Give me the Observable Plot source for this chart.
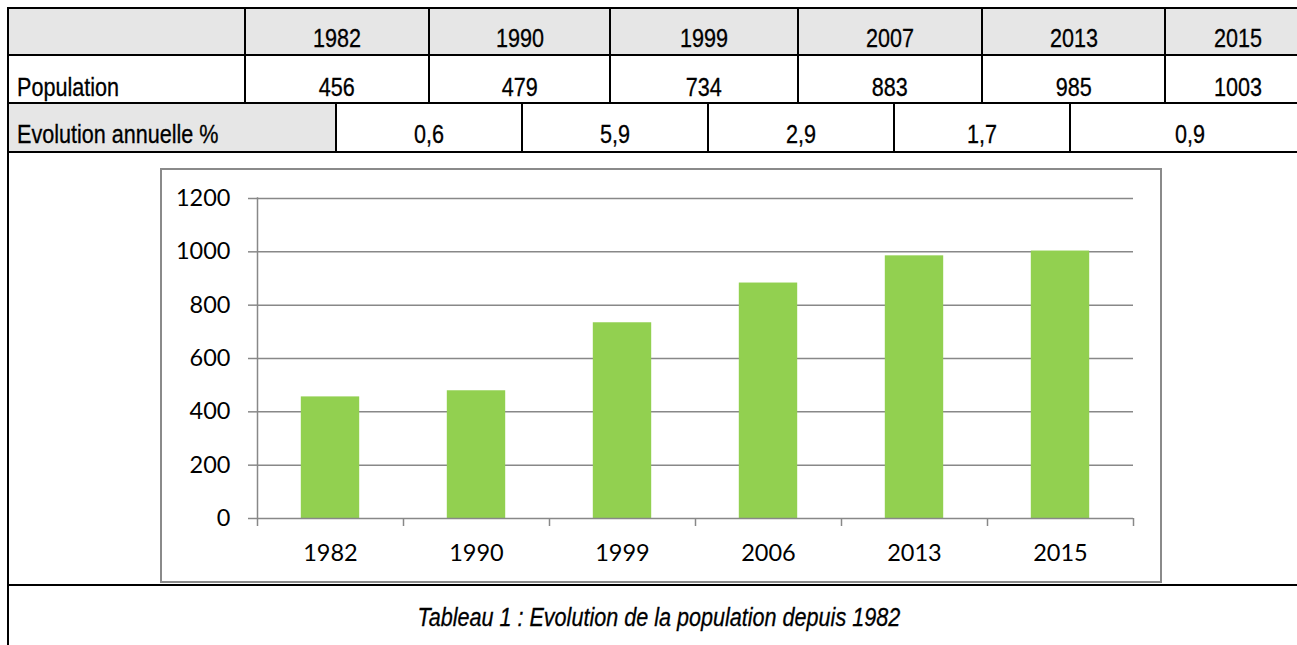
<!DOCTYPE html>
<html><head><meta charset="utf-8">
<script src="https://cdn.jsdelivr.net/npm/d3@7"></script>
<script src="https://cdn.jsdelivr.net/npm/@observablehq/plot@0.6"></script>
<style>
html,body{margin:0;padding:0;background:#fff;}
#page{position:relative;width:1297px;height:645px;overflow:hidden;font-family:"Liberation Sans Narrow","Arial Narrow","Liberation Sans",Arial,sans-serif;font-size:26px;color:#000;}
.t{position:absolute;white-space:nowrap;line-height:26px;height:26px;}
.t span{display:inline-block;transform:scaleX(0.83);-webkit-text-stroke:0.3px #000;}
.c span{transform-origin:50% 50%;}
.l span{transform-origin:0 50%;}
.bg{position:absolute;background:#e6e6e6;}
.hl{position:absolute;background:#000;height:2px;}
.vl{position:absolute;background:#000;width:2px;}
#chartbox{position:absolute;left:160px;top:168px;width:1002px;height:415px;}
#chartborder{position:absolute;left:160px;top:168px;width:1002px;height:415px;box-sizing:border-box;border:2px solid #8a8a8a;pointer-events:none;}
#chartbox svg{position:absolute;left:0;top:0;}
</style></head><body><div id="page"></div>
<script>
// ---- data ----
const tableYears = ["1982", "1990", "1999", "2007", "2013", "2015"];
const population = [456, 479, 734, 883, 985, 1003];
const evolution = ["0,6", "5,9", "2,9", "1,7", "0,9"];
const rowLabels = ["Population", "Evolution annuelle %"];
const chartYears = ["1982", "1990", "1999", "2006", "2013", "2015"];
const chartValues = [456, 479, 734, 883, 985, 1003];
const yTicks = [0, 200, 400, 600, 800, 1000, 1200];
const caption = "Tableau 1 : Evolution de la population depuis 1982";

// ---- layout ----
const rowLines = [8, 55, 103, 152, 585];
const colsTop = [8, 245, 429, 610, 798, 982, 1165, 1310];
const colsEvo = [8, 336, 522, 708, 894, 1070, 1310];
const baselines = [47, 96, 143];
const captionBaseline = 626;
const FS = 26;

const page = document.getElementById("page");
function el(cls, css, text) {
  const d = document.createElement("div");
  d.className = cls;
  Object.assign(d.style, css);
  if (text !== undefined) {
    const s = document.createElement("span");
    s.textContent = text;
    d.appendChild(s);
  }
  page.appendChild(d);
  return d;
}
function textTop(b) { return (b - 0.8465 * FS) + "px"; }

// backgrounds
el("bg", {left: colsTop[0] + "px", top: rowLines[0] + "px", width: (1310 - colsTop[0]) + "px", height: (rowLines[1] - rowLines[0]) + "px"});
el("bg", {left: colsEvo[0] + "px", top: rowLines[2] + "px", width: (colsEvo[1] - colsEvo[0]) + "px", height: (rowLines[3] - rowLines[2]) + "px"});

// horizontal lines
rowLines.forEach(y => el("hl", {left: "7px", top: (y - 1) + "px", width: "1310px"}));
// left border
el("vl", {left: "7px", top: "7px", height: "700px"});
// vertical lines rows 1-2
colsTop.slice(1, -1).forEach(x => el("vl", {left: (x - 1) + "px", top: (rowLines[0] - 1) + "px", height: (rowLines[2] - rowLines[0] + 2) + "px"}));
// vertical lines row 3
colsEvo.slice(1, -1).forEach(x => el("vl", {left: (x - 1) + "px", top: (rowLines[2] - 1) + "px", height: (rowLines[3] - rowLines[2] + 2) + "px"}));

// header years
tableYears.forEach((y, i) => el("t c", {left: colsTop[i + 1] + "px", width: (colsTop[i + 2] - colsTop[i + 1]) + "px", textAlign: "center", top: textTop(baselines[0])}, y));
// population
el("t l", {left: "17px", top: textTop(baselines[1])}, rowLabels[0]);
population.forEach((v, i) => el("t c", {left: colsTop[i + 1] + "px", width: (colsTop[i + 2] - colsTop[i + 1]) + "px", textAlign: "center", top: textTop(baselines[1])}, String(v)));
// evolution
el("t l", {left: "17px", top: textTop(baselines[2])}, rowLabels[1]);
evolution.forEach((v, i) => el("t c", {left: colsEvo[i + 1] + "px", width: (colsEvo[i + 2] - colsEvo[i + 1]) + "px", textAlign: "center", top: textTop(baselines[2])}, v));
// caption
el("t c", {left: "8px", width: "1302px", textAlign: "center", fontStyle: "italic", top: textTop(captionBaseline)}, caption);

// ---- chart ----
const W = 1002, H = 415, ML = 97, MR = 29, MT = 30, MB = 65;
const step = (W - ML - MR) / chartYears.length;
const data = chartYears.map((year, i) => ({year, value: chartValues[i]}));
const gray = "#888888";
const yMax = yTicks[yTicks.length - 1];
const chart = Plot.plot({
  width: W, height: H,
  marginLeft: ML, marginRight: MR, marginTop: MT, marginBottom: MB,
  style: {fontFamily: "Lato, 'Open Sans', sans-serif", fontSize: "23.5px", color: "#000", background: "transparent", overflow: "visible"},
  x: {type: "band", domain: chartYears, paddingInner: 0.6, paddingOuter: 0.3, round: false},
  y: {domain: [0, yMax]},
  marks: [
    Plot.ruleY(yTicks.slice(1), {stroke: gray, strokeWidth: 1.5}),
    Plot.barY(data, {x: "year", y: "value", fill: "#92d050"}),
    Plot.ruleY([0], {stroke: gray, strokeWidth: 1.5}),
    // left spine (y1 = top, y2 = bottom so insetBottom extends below 0)
    Plot.ruleX([chartYears[0]], {y1: yMax, y2: 0, dx: -step / 2, insetTop: -0.75, insetBottom: -8, stroke: gray, strokeWidth: 1.5}),
    // category boundary ticks
    Plot.ruleX(chartYears.slice(1), {y1: 0, y2: 0, dx: -step / 2, insetBottom: -8, stroke: gray, strokeWidth: 1.5}),
    Plot.ruleX([chartYears[chartYears.length - 1]], {y1: 0, y2: 0, dx: step / 2, insetBottom: -8, stroke: gray, strokeWidth: 1.5}),
    Plot.axisY({ticks: yTicks, tickFormat: d => String(d), tickSize: 9, tickPadding: 18, stroke: gray, strokeWidth: 1.5, fill: "#000", label: null}),
    Plot.axisX({tickSize: 0, tickPadding: 26, fill: "#000", label: null})
  ]
});
const box = document.createElement("div");
box.id = "chartbox";
box.appendChild(chart);
page.appendChild(box);
el("", {}).id = "chartborder";
</script>
</body></html>
